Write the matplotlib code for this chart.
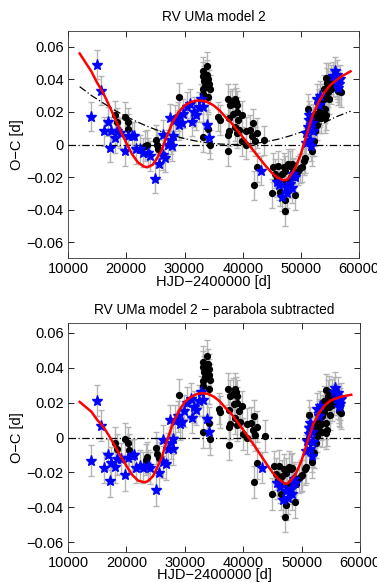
import numpy as np
import matplotlib
matplotlib.use("Agg")
import matplotlib.pyplot as plt

plt.rcParams['font.family'] = ['Liberation Sans', 'DejaVu Sans']

# ---- data (top panel values) ----
star_x = [14000, 15000, 15700, 16100, 16800, 17300, 17200, 18000, 18400, 19000, 19700, 20300, 20900, 21300,
          21700, 22300, 22900, 23700, 24100, 25000, 25600, 26300, 26700, 26300, 27200, 27500, 27600, 27900,
          28000, 28300, 28800, 29100, 29600, 29800, 30400, 31000, 31200, 31600, 32000, 32400, 32800, 33200,
          33800, 34200, 43200, 45800, 46300, 46800, 47400, 47600, 48100, 48400, 48700, 48900, 50800, 50900,
          51200, 51300, 51400, 51500, 51700, 51800, 52000, 52700, 53000, 53200, 55500, 55800, 56100, 56400,
          56200, 56600, 56700]
star_y = [0.017, 0.049, 0.033, 0.008, 0.014, 0.008, -0.002, 0.004, 0.008, 0.007, -0.004, 0.005, 0.005, 0.005,
          -0.003, -0.003, -0.005, -0.005, -0.007, -0.021, -0.012, -0.0065, -0.008, 0.006, 0.0, 0.016, 0.003, -0.001,
          0.005, 0.015, 0.017, 0.012, 0.013, 0.019, 0.023, 0.025, 0.014, 0.020, 0.018, 0.023, 0.028, 0.023,
          0.012, 0.004, -0.016, -0.023, -0.025, -0.032, -0.026, -0.030, -0.024, -0.027, -0.018, -0.020, 0.001, 0.007,
          0.011, 0.015, 0.018, 0.003, -0.001, 0.013, 0.008, 0.028, 0.024, 0.030, 0.042, 0.045, 0.039, 0.035,
          0.043, 0.037, 0.040]

dot_x = [18100, 18400, 19700, 20250, 20360, 23300, 23500, 25100, 25200, 25500, 29000,
         33100, 33100, 33200, 33300, 33500, 33100, 33800, 33900, 34100, 34200, 34300, 34100, 34300, 33200, 34100,
         35800, 36100, 37400, 37800, 37600, 37700, 37500, 37500, 38200, 38400, 38600, 38800, 39000, 39000, 39200,
         38600, 39000, 39400, 39900, 40600, 40600, 41300, 41600, 41800, 42100, 42400, 41900, 42400, 43700, 39850,
         45000, 45200, 45600, 45900, 46100, 46300, 46400, 46700, 47000, 47200, 47300, 47300, 47500, 47800, 48100,
         48200, 48400, 48700, 48900, 49000, 49500, 49900, 50100, 50500, 50700,
         51200, 51900, 51800, 52200, 52100, 52150, 52400, 52400, 52700, 52700, 53000, 53000, 53200, 53300, 53500,
         53500, 53600, 53900, 53900, 54100, 54100, 54200, 54200, 54300, 54500, 54700, 54700, 54800, 55000, 55200,
         55200, 55500, 56150, 56400, 56600, 56800]
dot_y = [0.018, 0.0136, 0.017, 0.0136, 0.0095, -0.001, 0.0, 0.003, -0.0002, -0.003, 0.029,
         0.0046, 0.045, 0.042, 0.039, 0.036, 0.034, 0.048, 0.043, 0.040, 0.037, 0.034, 0.029, 0.0, 0.031, 0.0095,
         0.017, 0.015, 0.028, 0.024, 0.016, 0.008, 0.006, -0.004, 0.025, 0.019, 0.028, 0.026, 0.024, 0.020, 0.015,
         0.011, 0.007, 0.009, 0.002, 0.0, 0.008, 0.009, 0.005, 0.013, 0.002, 0.007, -0.025, -0.014, 0.0025, 0.018,
         -0.030, -0.014, -0.018, -0.021, -0.013, -0.022, -0.029, -0.018, -0.014, -0.041, -0.034, -0.016, -0.023, -0.012, -0.013,
         -0.020, -0.012, -0.017, -0.031, -0.020, -0.016, -0.0146, -0.014, -0.010, -0.0084,
         0.022, 0.002, -0.004, 0.002, 0.016, 0.014, 0.019, 0.008, 0.012, 0.017, 0.016, 0.025, 0.021, 0.020, 0.025,
         0.016, 0.028, 0.028, 0.034, 0.022, 0.016, 0.041, 0.031, 0.018, 0.038, 0.032, 0.041, 0.028, 0.036, 0.034,
         0.040, 0.038, 0.037, 0.033, 0.033, 0.032]

err_star = 0.009
err_dot = 0.009

# model curve (top panel)
model_x = [12000, 13000, 14000, 15000, 16000, 17000, 18000, 19000, 20000, 21000, 22000, 23000, 23600, 24500,
           25000, 26000, 27000, 28000, 29000, 30000, 31000, 32000, 33000, 34000, 35000, 36000, 37000, 38000,
           39000, 40000, 41000, 42000, 43000, 44000, 45000, 46000, 47000, 47500, 48000, 49000, 50000, 51000,
           52000, 53000, 54000, 55000, 56000, 57000, 58000, 58500]
model_y = [0.056, 0.0505, 0.045, 0.038, 0.032, 0.0245, 0.0165, 0.0085, 0.001, -0.006, -0.011, -0.0135, -0.014, -0.0125,
           -0.010, -0.004, 0.0055, 0.014, 0.020, 0.024, 0.026, 0.027, 0.027, 0.026, 0.024, 0.021, 0.017, 0.0135,
           0.009, 0.0045, 0.0, -0.0045, -0.009, -0.0135, -0.0175, -0.0205, -0.022, -0.0218, -0.020, -0.0146, -0.0055, 0.0065,
           0.018, 0.026, 0.032, 0.0365, 0.0395, 0.042, 0.044, 0.045]

# parabola (dash-dot, top panel)
par_x = [12000, 14000, 16000, 18000, 20000, 22000, 24000, 26000, 28000, 30000, 32000, 34000, 36000, 38000,
         40000, 42000, 44000, 46000, 48000, 50000, 52000, 54000, 56000, 58500]
par_y = [0.0356, 0.0302, 0.0256, 0.0211, 0.0172, 0.0137, 0.0106, 0.0079, 0.0056, 0.0036, 0.0021, 0.0010, 0.0003, 0.0,
         0.0001, 0.0006, 0.0017, 0.0032, 0.0052, 0.0076, 0.0103, 0.0134, 0.0170, 0.0205]

xticks = [10000, 20000, 30000, 40000, 50000, 60000]
yticks = [-0.06, -0.04, -0.02, 0, 0.02, 0.04, 0.06]
ytick_labels = ['\u22120.06', '\u22120.04', '\u22120.02', '0', '0.02', '0.04', '0.06']

# ---- figure ----
fig = plt.figure(figsize=(3.77, 5.82), dpi=100)
ax1 = fig.add_axes([68/377, 1-258.3/582, (359.3-68)/377, (258.3-30.7)/582])
ax2 = fig.add_axes([68/377, 1-551.7/582, (360-68)/377, (551.7-323.3)/582])

sx = np.array(star_x); sy = np.array(star_y)
dx = np.array(dot_x); dy = np.array(dot_y)
mx = np.array(model_x); my = np.array(model_y)
px = np.array(par_x); py = np.array(par_y)

panels = [
    (ax1, sy, dy, my, True, 0.07, 'RV UMa model 2'),
    (ax2, sy - np.interp(sx, px, py), dy - np.interp(dx, px, py), my - np.interp(mx, px, py), False, 0.0655,
     'RV UMa model 2 \u2212 parabola subtracted'),
]

gray = '#b4b4b4'
for ax, s_y, d_y, m_y, show_par, ylim, title in panels:
    ax.errorbar(dx, d_y, yerr=err_dot, fmt='none', ecolor=gray, elinewidth=1.0, capsize=2, capthick=1.0, zorder=1)
    ax.errorbar(sx, s_y, yerr=err_star, fmt='none', ecolor=gray, elinewidth=1.0, capsize=2, capthick=1.0, zorder=1)
    ax.axhline(0, color='black', lw=0.9, ls='-.', dashes=(6, 2, 1, 2), zorder=2)
    if show_par:
        ax.plot(px, py, color='black', lw=0.9, ls='-.', dashes=(6, 2, 1, 2), zorder=2)
    ax.plot(dx, d_y, 'o', color='black', ms=4.2, mec='black', zorder=3)
    ax.plot(sx, s_y, '*', color='blue', ms=8, mec='blue', zorder=4)
    ax.plot(mx, m_y, color='red', lw=1.8, zorder=5)
    ax.set_xlim(10000, 60000)
    ax.set_ylim(-ylim, ylim)
    ax.set_xticks(xticks)
    ax.set_xticklabels([str(t) for t in xticks])
    ax.set_yticks(yticks)
    ax.set_yticklabels(ytick_labels)
    ax.tick_params(direction='in', top=True, right=True, length=4, width=0.6, labelsize=10.5, pad=3)
    for sp in ax.spines.values():
        sp.set_linewidth(0.6)
        sp.set_color('#333333')
    ax.set_title(title, fontsize=9.8, pad=7)
    ax.set_xlabel('HJD\u22122400000 [d]', fontsize=10.5, labelpad=-1)
    ax.set_ylabel('O\u2212C [d]', fontsize=10.5, labelpad=2)

fig.savefig('out.png', dpi=100)
